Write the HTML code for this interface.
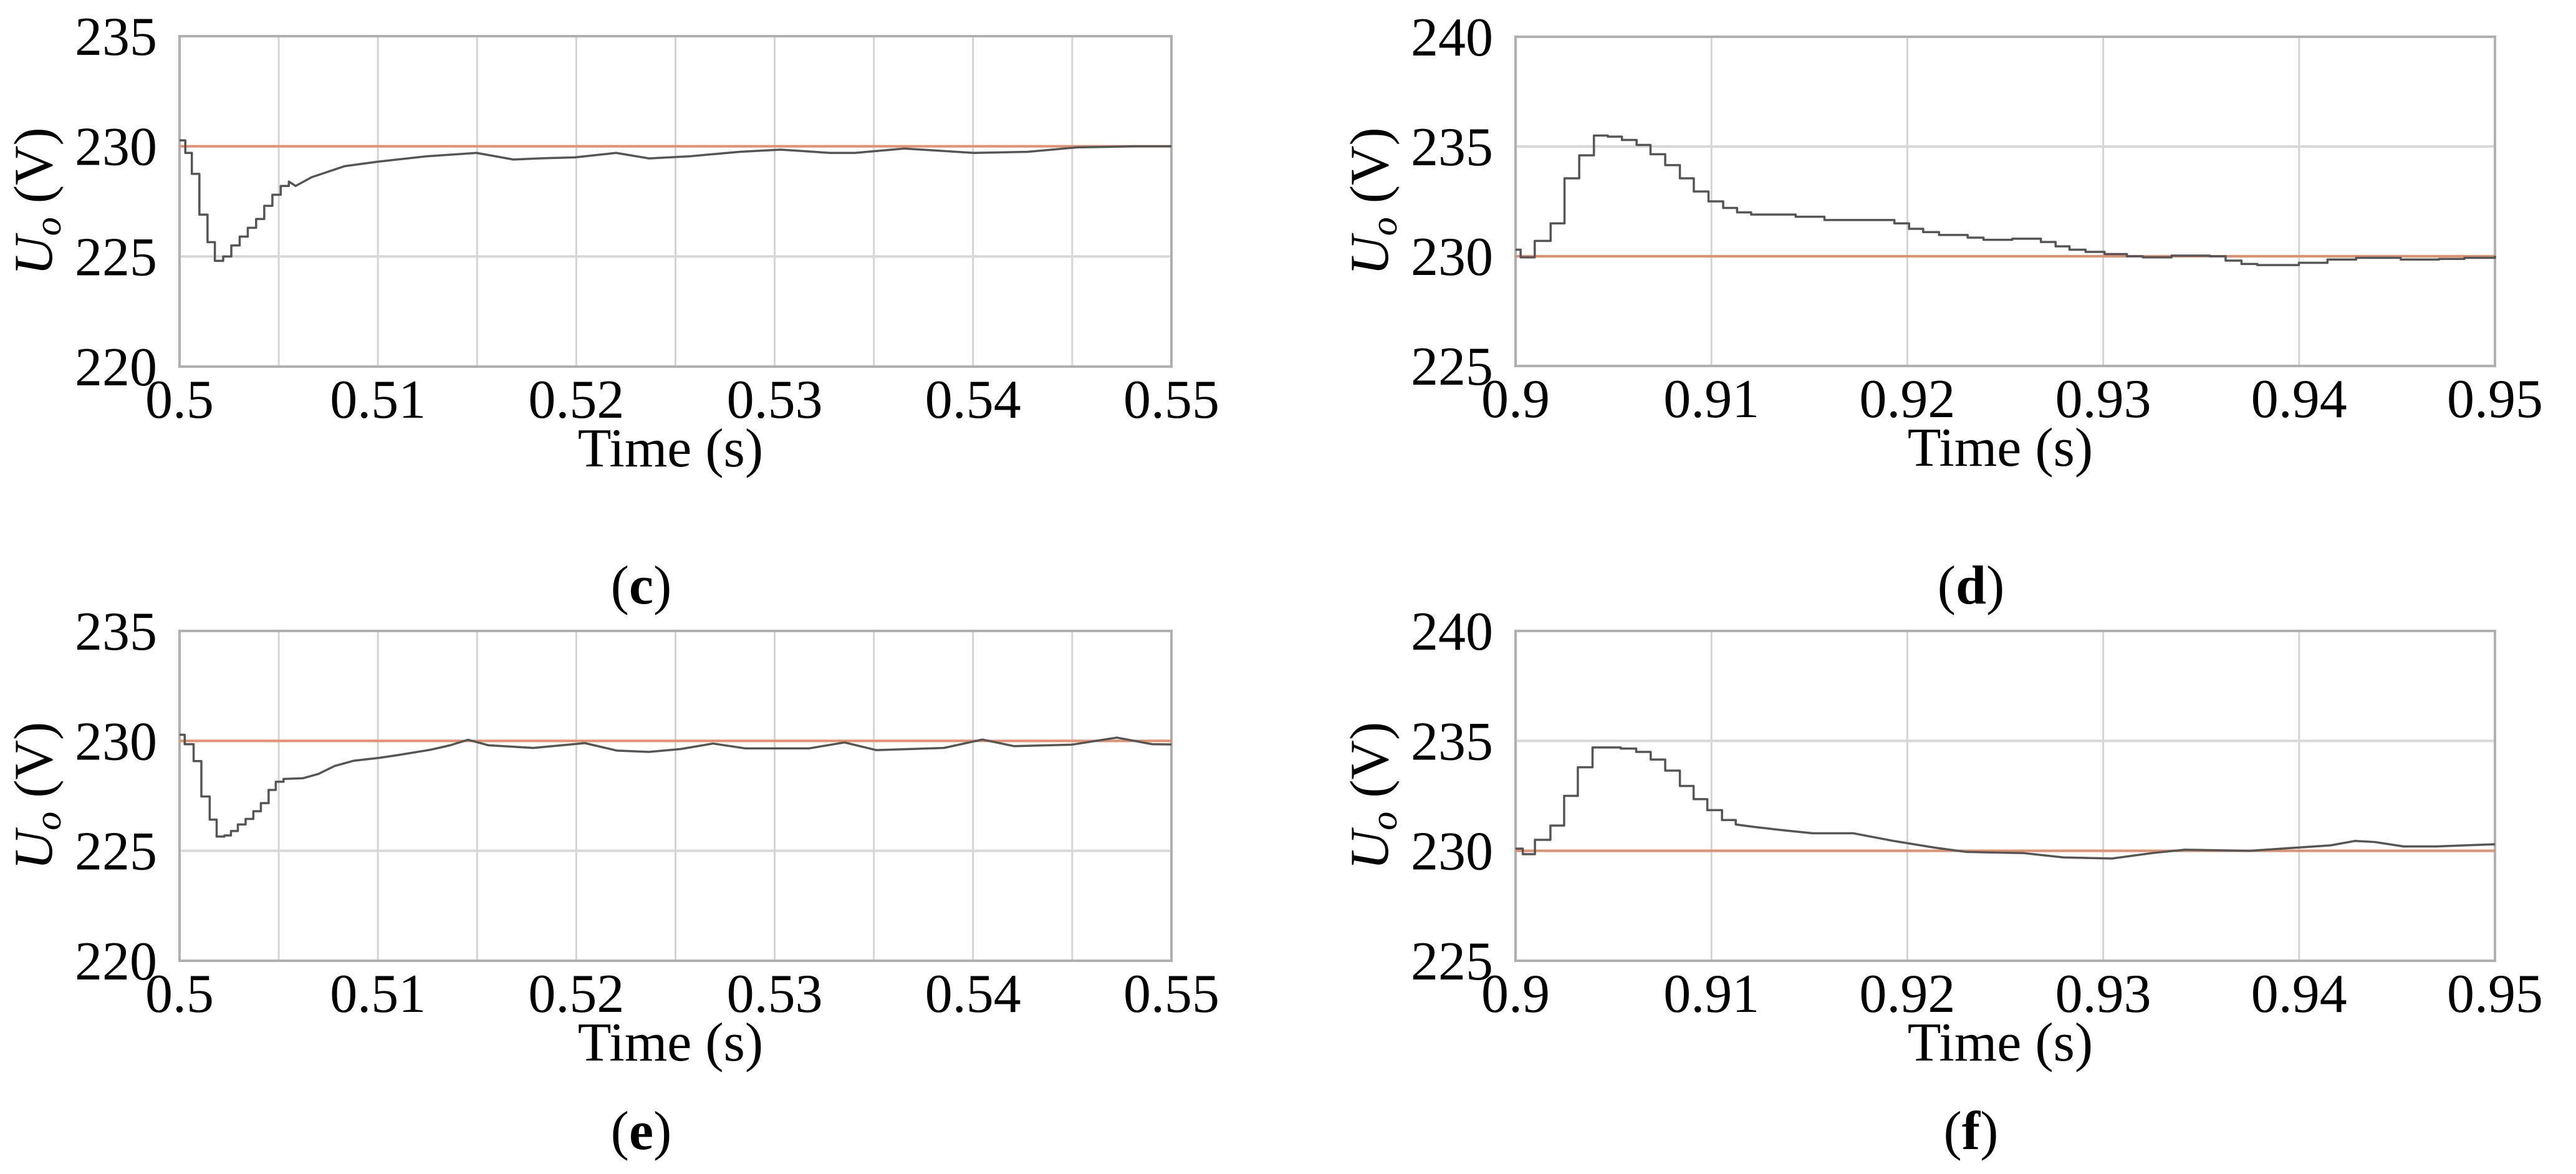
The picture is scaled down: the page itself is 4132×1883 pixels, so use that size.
<!DOCTYPE html>
<html><head><meta charset="utf-8">
<style>
html,body{margin:0;padding:0;background:#fff;}
svg{display:block;}
text{font-family:"Liberation Serif",serif;fill:#000;}
</style></head>
<body>
<svg id="fig" width="4132" height="1883" viewBox="0 0 4132 1883" xmlns="http://www.w3.org/2000/svg"></svg>
<script>
// Panel (c)
const cTime=[0.5,0.50029,0.50062,0.50100,0.50141,0.50178,0.50220,0.50261,0.50303,0.50344,0.50386,0.50427,0.50468,0.50510,0.50551,0.50585,0.50667,0.50833,0.50999,0.51248,0.51497,0.51683,0.51808,0.51994,0.52201,0.52367,0.52575,0.52823,0.53031,0.53279,0.53404,0.53653,0.54005,0.54274,0.54523,0.54813,0.55];
const cVolt=[230.27,229.7,228.75,226.9,225.65,224.8,225.0,225.5,225.9,226.3,226.7,227.3,227.8,228.2,228.4,228.2,228.6,229.1,229.3,229.55,229.7,229.4,229.45,229.5,229.7,229.45,229.55,229.75,229.85,229.7,229.7,229.9,229.7,229.75,229.95,230.0,230.0];
// Panel (d)
const dTime=[0.9,0.90026,0.90098,0.90179,0.90250,0.90325,0.90400,0.90471,0.90543,0.90618,0.90689,0.90764,0.90839,0.90910,0.90985,0.91060,0.91131,0.91203,0.91430,0.91577,0.91853,0.91934,0.92009,0.92081,0.92162,0.92308,0.92389,0.92536,0.92682,0.92757,0.92828,0.92910,0.93007,0.93121,0.93202,0.93349,0.93544,0.93625,0.93706,0.93787,0.93999,0.94145,0.94291,0.94454,0.94519,0.94714,0.94844,0.95];
const dVolt=[230.3,229.95,230.7,231.5,233.55,234.6,235.5,235.45,235.3,235.07,234.65,234.15,233.55,232.95,232.5,232.2,232.0,231.9,231.8,231.65,231.65,231.5,231.25,231.1,230.97,230.85,230.75,230.8,230.65,230.45,230.3,230.2,230.1,230.0,229.95,230.03,230.0,229.8,229.65,229.6,229.7,229.85,229.93,229.93,229.85,229.88,229.93,230.02];
// Panel (e)
const eTime=[0.5,0.50026,0.50071,0.50110,0.50152,0.50187,0.50226,0.50259,0.50294,0.50333,0.50372,0.50410,0.50449,0.50485,0.50524,0.50621,0.50701,0.50782,0.50879,0.51008,0.51105,0.51267,0.51364,0.51454,0.51558,0.51784,0.52043,0.52204,0.52366,0.52527,0.52689,0.52851,0.53174,0.53352,0.53513,0.53853,0.54047,0.54208,0.54499,0.54725,0.54903,0.55];
const eVolt=[230.28,229.85,229.08,227.47,226.42,225.65,225.7,225.9,226.2,226.45,226.8,227.17,227.77,228.14,228.27,228.3,228.5,228.86,229.1,229.23,229.36,229.6,229.8,230.05,229.8,229.68,229.9,229.56,229.5,229.63,229.88,229.66,229.66,229.93,229.58,229.68,230.06,229.76,229.83,230.15,229.85,229.84];
// Panel (f)
const fTime=[0.9,0.90037,0.90099,0.90178,0.90248,0.90318,0.90393,0.90463,0.90537,0.90616,0.90690,0.90764,0.90839,0.90909,0.90979,0.91054,0.91124,0.91207,0.91351,0.91517,0.91723,0.91930,0.92136,0.92302,0.92591,0.92798,0.93045,0.93252,0.93417,0.93748,0.93996,0.94161,0.94285,0.94388,0.94533,0.94698,0.95];
const fVolt=[230.1,229.85,230.5,231.15,232.5,233.8,234.7,234.7,234.65,234.5,234.15,233.65,232.95,232.35,231.85,231.4,231.2,231.1,230.95,230.8,230.8,230.45,230.15,229.95,229.9,229.7,229.65,229.9,230.05,230.0,230.15,230.25,230.45,230.4,230.2,230.2,230.3];
const refVolt=230;
const cdTicksX=["0.5","0.51","0.52","0.53","0.54","0.55"];
const dfTicksX=["0.9","0.91","0.92","0.93","0.94","0.95"];
const ceTicksY=[220,225,230,235];
const dfTicksY=[225,230,235,240];

const NS="http://www.w3.org/2000/svg";
const svg=document.getElementById('fig');
function mk(tag,attrs,parent){const e=document.createElementNS(NS,tag);for(const k in attrs)e.setAttribute(k,attrs[k]);(parent||svg).appendChild(e);return e;}

function panel(o){
  const g=mk('g',{});
  
  
  const X=t=>o.L+(t-o.x0)/(o.x1-o.x0)*(o.R-o.L);
  const Y=v=>o.B-(v-o.y0)/(o.y1-o.y0)*(o.B-o.T);
  for(let t=o.x0;t<=o.x1+1e-9;t+=o.gx){
    const l=mk('line',{x1:X(t),x2:X(t),y1:o.T,y2:o.B,stroke:'#d4d4d4','stroke-width':3},g);
    
    
  }
  o.yt.forEach(v=>{
    const l=mk('line',{x1:o.L,x2:o.R,y1:Y(v),y2:Y(v),stroke:'#d8d8d8','stroke-width':4},g);
    
    
    const tx=mk('text',{x:o.L-36,y:Y(v)+30,'text-anchor':'end','font-size':88},g);
    tx.textContent=v;
    
    
  });
  const box=mk('rect',{x:o.L,y:o.T,width:o.R-o.L,height:o.B-o.T,fill:'none',stroke:'#b0b0b0','stroke-width':4},g);
  
  
  o.xt.forEach((s,i)=>{
    const t=o.x0+i*(o.x1-o.x0)/(o.xt.length-1);
    const tx=mk('text',{x:X(t),y:o.B+82,'text-anchor':'middle','font-size':88},g);
    tx.textContent=s;
    
    
  });
  const ref=mk('line',{x1:o.L,x2:o.R,y1:Y(refVolt),y2:Y(refVolt),stroke:'#e29070','stroke-width':4},g);
  
  
  let d='M'+X(o.t[0])+' '+Y(o.v[0]);
  for(let i=1;i<o.t.length;i++){
    if(o.t[i]<=o.stepEnd){d+=' H'+X(o.t[i])+' V'+Y(o.v[i]);}
    else{d+=' L'+X(o.t[i])+' '+Y(o.v[i]);}
  }
  const p=mk('path',{d:d,fill:'none',stroke:'#555','stroke-width':3.5,'stroke-linejoin':'round'},g);
  
  
  const xl=mk('text',{x:(o.L+o.R)/2-8,y:o.B+160,'text-anchor':'middle','font-size':88},g);
  xl.textContent='Time (s)';
  
  
  const cy=(o.T+o.B)/2;
  const yl=mk('text',{x:0,y:0,'text-anchor':'middle','font-size':88,transform:`translate(${o.L-205},${cy}) rotate(-90)`},g);
  yl.innerHTML='<tspan font-style="italic">U</tspan><tspan font-style="italic" font-size="60" dy="14">o</tspan><tspan dy="-14"> (V)</tspan>';
  
  
  const cap=mk('text',{x:(o.L+o.R)/2-55,y:o.B+o.capOff,'text-anchor':'middle','font-size':88},g);
  cap.innerHTML='(<tspan font-weight="bold">'+o.id+'</tspan>)';
  
  
}

panel({id:'c',L:288,R:1879,T:58,B:588,x0:0.5,x1:0.55,gx:0.005,y0:220,y1:235,yt:ceTicksY,xt:cdTicksX,t:cTime,v:cVolt,stepEnd:0.5056,capOff:380});
panel({id:'d',L:2431,R:4002,T:59,B:587,x0:0.9,x1:0.95,gx:0.01,y0:225,y1:240,yt:dfTicksY,xt:dfTicksX,t:dTime,v:dVolt,stepEnd:0.951,capOff:381});
panel({id:'e',L:288,R:1879,T:1012,B:1541,x0:0.5,x1:0.55,gx:0.005,y0:220,y1:235,yt:ceTicksY,xt:cdTicksX,t:eTime,v:eVolt,stepEnd:0.5053,capOff:302});
panel({id:'f',L:2431,R:4002,T:1012,B:1541,x0:0.9,x1:0.95,gx:0.01,y0:225,y1:240,yt:dfTicksY,xt:dfTicksX,t:fTime,v:fVolt,stepEnd:0.9115,capOff:302});
</script>
</body></html>
